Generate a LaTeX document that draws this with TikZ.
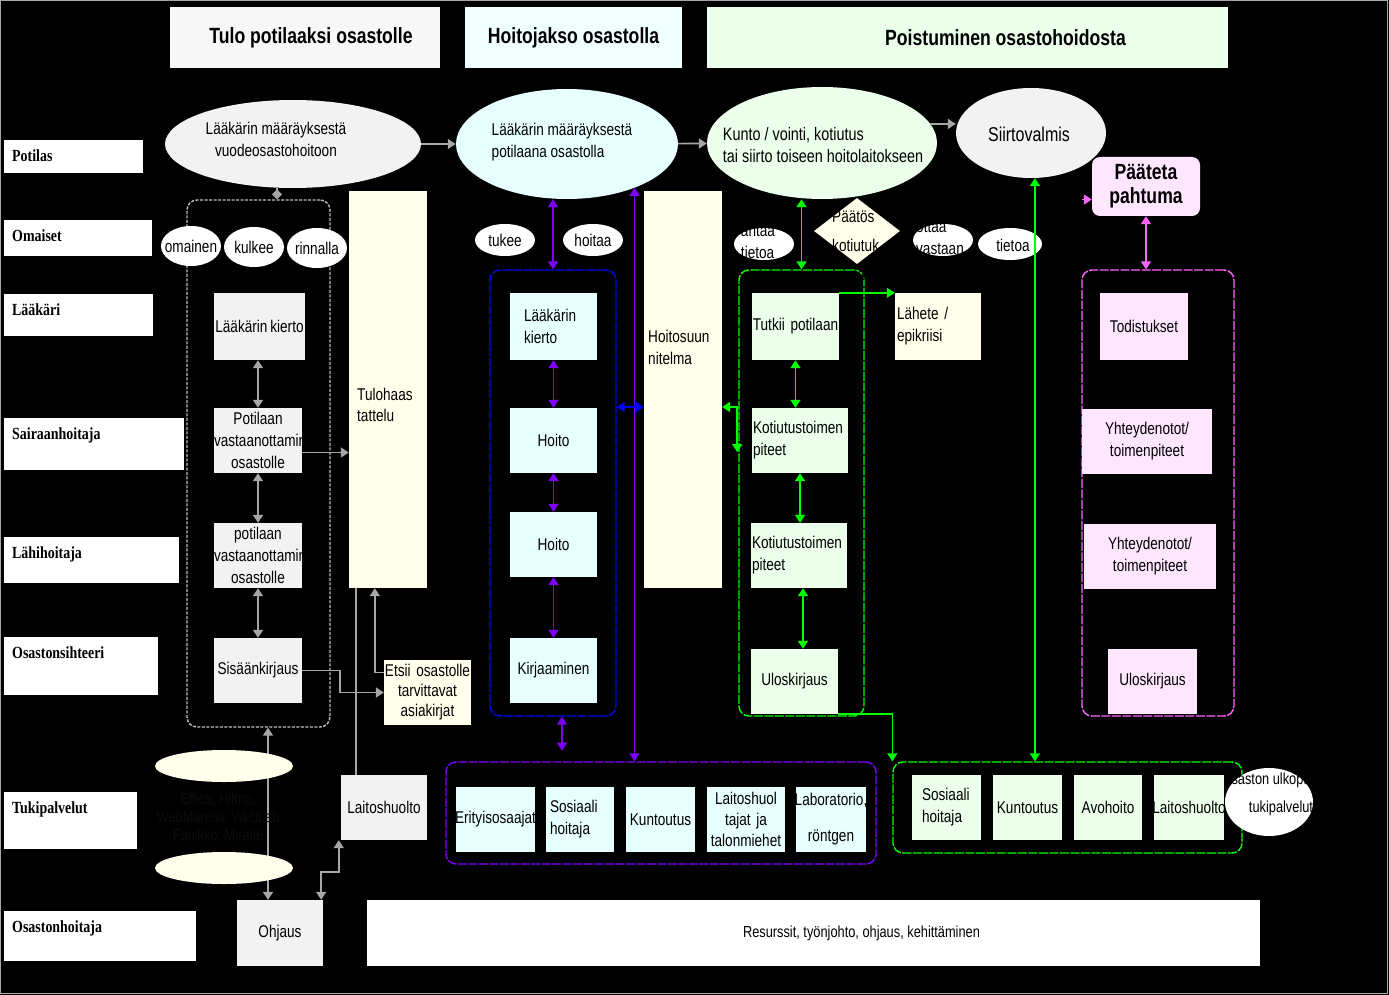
\documentclass[tikz,border=0pt]{standalone}
\usepackage{fontspec}
\setmainfont{Liberation Sans}[FakeStretch=0.8]
\newfontfamily\rolefont{Liberation Serif}[FakeStretch=0.82]
\usetikzlibrary{arrows.meta,shapes.geometric}

\definecolor{gfill}{HTML}{F2F2F2}
\definecolor{cfill}{HTML}{E8FFFF}
\definecolor{lfill}{HTML}{EBFFEB}
\definecolor{yfill}{HTML}{FFFFEB}
\definecolor{pfill}{HTML}{FFE6FF}
\definecolor{hone}{HTML}{F7F7F7}
\definecolor{htwo}{HTML}{F0FFFF}
\definecolor{garrow}{HTML}{A6A6A6}
\definecolor{ggroup}{HTML}{C0C0C0}
\definecolor{purp}{HTML}{8000FF}
\definecolor{grn}{HTML}{00FF00}
\definecolor{pnk}{HTML}{FF66FF}
\definecolor{cyltxt}{HTML}{0C0C0C}

\begin{document}
\begin{tikzpicture}[
  x=1pt, y=-1pt,
  font=\fontsize{17}{22}\selectfont,
  >={Triangle[width=10pt,length=8pt]},
  role/.style 2 args={fill=white, anchor=north west, align=left, inner xsep=8pt, inner ysep=9pt,
    text width=#1, text height=12pt, text depth=#2, font=\rolefont\bfseries\fontsize{17}{19}\selectfont},
  head/.style={fill=#1, inner sep=0pt, minimum height=61pt, font=\bfseries\fontsize{22}{26}\selectfont},
  box/.style={fill=#1, inner sep=0pt, align=center},
  ell/.style={ellipse, fill=#1, inner sep=0pt},
  txt/.style={inner sep=0pt, align=center},
  grp/.style={draw=#1, rounded corners=10pt, line width=1.4pt, dash pattern=on 9pt off 1.5pt, inner sep=0pt},
  arr/.style={draw=#1, line width=1.6pt}
]
\useasboundingbox (0,0) rectangle (1389,995);
\fill[black] (0,0) rectangle (1389,995);
\draw[gray!70, line width=1pt] (0.5,0.5) rectangle (1387.5,993.5);

% --- phase headers ---
\node[head=hone, minimum width=270pt] (hTulo) at (305,37.5) {\hspace{12pt}Tulo potilaaksi osastolle};
\node[head=htwo, minimum width=217pt] (hHoito) at (573.5,37.5) {Hoitojakso osastolla};
\node[head=lfill, minimum width=521pt] (hPois) at (967.5,37.5) {\hspace{76pt}Poistuminen osastohoidosta};

% --- roles ---
\node[role={123pt}{3pt}] (potilas) at (4,140) {Potilas};
\node[role={132pt}{6pt}] (omaiset) at (4,220) {Omaiset};
\node[role={133pt}{12pt}] (laakari) at (4,294) {Lääkäri};
\node[role={164pt}{22pt}] (sairaan) at (4,418) {Sairaanhoitaja};
\node[role={159pt}{16pt}] (lahi) at (4,537) {Lähihoitaja};
\node[role={138pt}{28pt}] (sihteeri) at (4,637) {Osastonsihteeri};
\node[role={117pt}{27pt}] (tuki) at (4,792) {Tukipalvelut};
\node[role={176pt}{20pt}] (oshoit) at (4,911) {Osastonhoitaja};

% --- groups ---
\node[grp=ggroup, dash pattern=on 3pt off 1.5pt, minimum width=143pt, minimum height=527pt] (tgrp) at (258.5,463.5) {};
\node[grp=blue, minimum width=126pt, minimum height=446pt] (bgrp) at (553,493) {};
\node[grp=grn, minimum width=125pt, minimum height=446pt] (ggrp) at (801.5,493) {};
\node[grp=pnk, minimum width=152pt, minimum height=446pt] (pgrp2) at (1158,493) {};
\node[grp=purp, minimum width=430pt, minimum height=102pt] (pgrp) at (661,813) {};
\node[grp=grn, minimum width=349pt, minimum height=91pt] (ggrp2) at (1067.5,807.5) {};

% --- ellipses ---
\node[ell=gfill, minimum width=256pt, minimum height=88pt] (e1) at (293,144) {};
\node[txt] (e1t) at (276,139) {Lääkärin määräyksestä\\vuodeosastohoitoon};
\node[ell=cfill, minimum width=222pt, minimum height=110pt] (e2) at (567,144) {};
\node[txt, align=left] (e2t) at (562,142) {Lääkärin määräyksestä\\potilaana osastolla};
\node[ell=lfill, minimum width=230pt, minimum height=112pt] (e3) at (822,143) {};
\node[txt, align=left, font=\fontsize{18}{22}\selectfont] (e3t) at (823,145) {Kunto / vointi, kotiutus\\tai siirto toiseen hoitolaitokseen};
\node[ell=gfill, minimum width=150pt, minimum height=90pt] (e4) at (1031,133) {};
\node[txt, font=\fontsize{20}{24}\selectfont] (e4t) at (1029,134) {Siirtovalmis};
\node[box=pfill, rounded corners=8pt, text width=108pt, minimum height=59pt, font=\bfseries\fontsize{22}{24}\selectfont] (paate) at (1146,186.5) {Pääteta\\pahtuma};

\node[ell=white, minimum width=60pt, minimum height=40pt] (omainen) at (191,246) {};
\node[txt] (omainent) at (omainen) {omainen};
\node[ell=white, minimum width=60pt, minimum height=40pt] (kulkee) at (254,247) {};
\node[txt] (kulkeet) at (kulkee) {kulkee};
\node[ell=white, minimum width=60pt, minimum height=40pt] (rinnalla) at (317,248) {};
\node[txt] (rinnallat) at (rinnalla) {rinnalla};
\node[ell=white, minimum width=60pt, minimum height=32pt] (tukee) at (505,240) {};
\node[txt] (tukeet) at (tukee) {tukee};
\node[ell=white, minimum width=60pt, minimum height=32pt] (hoitaa) at (593,240) {};
\node[txt] (hoitaat) at (hoitaa) {hoitaa};
\node[ell=white, minimum width=60pt, minimum height=32pt] (antaa) at (764,244) {};
\node[txt, align=left] (antaat) at (758,242) {antaa\\tietoa};
\node[diamond, fill=yfill, inner sep=0pt, minimum width=86pt, minimum height=66pt] (paatos) at (857,231) {};
\node[txt, align=left, anchor=north west, font=\fontsize{17}{29}\selectfont] (paatost) at (832,211) {Päätös\\kotiutuk\\sesta};
\node[ell=white, minimum width=60pt, minimum height=32pt] (ottaa) at (943,240) {};
\node[txt, align=left] (ottaat) at (940,238) {ottaa\\vastaan};
\node[ell=white, minimum width=64pt, minimum height=32pt] (tietoa) at (1010,244) {};
\node[txt] (tietoat) at (1013,245) {tietoa};
\node[ell=white, minimum width=88pt, minimum height=68pt] (ulko) at (1269,802) {};
\node[txt, font=\fontsize{16}{28}\selectfont] (ulkot) at (1281,794) {Osaston ulkopuoliset\\tukipalvelut};

% --- tulo potilaaksi ---
\node[box=gfill, text width=91pt, minimum height=67pt] (lkierto) at (259.5,326.5) {\makebox[0pt]{Lääkärin\,kierto}};
\node[box=gfill, text width=88pt, minimum height=65pt] (pvast1) at (258,440.5) {Potilaan\\vastaanottaminen\\osastolle};
\node[box=gfill, text width=88pt, minimum height=65pt] (pvast2) at (258,555.5) {potilaan\\vastaanottaminen\\osastolle};
\node[box=gfill, text width=88pt, minimum height=65pt] (sisaan) at (258,670.5) {Sisäänkirjaus};
\node[box=yfill, minimum width=78pt, minimum height=397pt] (tulo) at (388,389.5) {};
\node[txt, align=left, anchor=north west, font=\fontsize{17}{21}\selectfont] (tulot) at (357,388) {Tulohaas\\tattelu};
\node[box=yfill, text width=87pt, minimum height=65pt, font=\fontsize{17}{20}\selectfont] (etsii) at (427.5,692.5) {Etsii osastolle\\tarvittavat\\asiakirjat};
\node[box=gfill, text width=86pt, minimum height=65pt] (laitos) at (384,807.5) {Laitoshuolto};
\node[box=gfill, text width=86pt, minimum height=66pt] (ohjaus) at (280,933) {Ohjaus};
\node[box=white, minimum width=893pt, minimum height=66pt, font=\fontsize{16}{20}\selectfont] (resurssit) at (813.5,933) {\hspace{96pt}Resurssit, työnjohto, ohjaus, kehittäminen};

% --- hoitojakso ---
\node[box=cfill, align=left, text width=59pt, inner xsep=14pt, minimum height=67pt] (lk2) at (553.5,326.5) {Lääkärin\\kierto};
\node[box=cfill, text width=87pt, minimum height=65pt] (hoito1) at (553.5,440.5) {Hoito};
\node[box=cfill, text width=87pt, minimum height=65pt] (hoito2) at (553.5,544.5) {Hoito};
\node[box=cfill, text width=87pt, minimum height=65pt] (kirj) at (553.5,670.5) {Kirjaaminen};
\node[box=yfill, minimum width=78pt, minimum height=397pt] (hoitosuun) at (683,389.5) {};
\node[txt, align=left, anchor=north west] (hoitosuunt) at (648,330) {Hoitosuun\\nitelma};
\node[box=cfill, text width=79pt, minimum height=65pt] (erit) at (495.5,819.5) {\makebox[0pt]{Erityisosaajat}};
\node[box=cfill, align=left, text width=60pt, inner xsep=4pt, minimum height=65pt] (sos1) at (580,819.5) {Sosiaali\\hoitaja};
\node[box=cfill, text width=69pt, minimum height=65pt] (kunt1) at (660.5,819.5) {Kuntoutus};
\node[box=cfill, text width=78pt, minimum height=65pt, font=\fontsize{17}{21}\selectfont] (laitos2) at (746,819.5) {Laitoshuol\\tajat ja\\talonmiehet};
\node[box=cfill, text width=70pt, minimum height=65pt, font=\fontsize{17}{36}\selectfont] (labra) at (831,819.5) {\makebox[0pt]{Laboratorio,}\\röntgen};

% --- poistuminen ---
\node[box=lfill, text width=87pt, minimum height=67pt] (tutkii) at (795.5,326.5) {Tutkii potilaan};
\node[box=lfill, align=left, text width=94pt, inner xsep=1pt, minimum height=65pt] (koti1) at (800,440.5) {Kotiutustoimen\\piteet};
\node[box=lfill, align=left, text width=94pt, inner xsep=1pt, minimum height=65pt] (koti2) at (799,555.5) {Kotiutustoimen\\piteet};
\node[box=lfill, text width=87pt, minimum height=65pt] (ulos) at (794.5,681.5) {Uloskirjaus};
\node[box=yfill, align=left, text width=82pt, inner xsep=2pt, minimum height=67pt] (lahete) at (938,326.5) {Lähete /\\epikriisi};
\node[box=lfill, align=left, text width=49pt, inner xsep=10pt, minimum height=65pt] (sos2) at (946.5,807.5) {Sosiaali\\hoitaja};
\node[box=lfill, text width=69pt, minimum height=65pt] (kunt2) at (1027.5,807.5) {Kuntoutus};
\node[box=lfill, text width=68pt, minimum height=65pt] (avo) at (1108,807.5) {Avohoito};
\node[box=lfill, text width=70pt, minimum height=65pt] (laitos3) at (1189,807.5) {\makebox[0pt]{Laitoshuolto}};
\node[box=pfill, text width=88pt, minimum height=67pt] (todist) at (1144,326.5) {Todistukset};
\node[box=pfill, text width=130pt, minimum height=65pt] (yht1) at (1147,441.5) {Yhteydenotot/\\toimenpiteet};
\node[box=pfill, text width=132pt, minimum height=65pt] (yht2) at (1150,556.5) {Yhteydenotot/\\toimenpiteet};
\node[box=pfill, text width=89pt, minimum height=65pt] (ulos2) at (1152.5,681.5) {Uloskirjaus};

% --- gray connectors ---
\draw[arr=garrow,->] (e1) -- (e2);
\draw[arr=garrow,->] (e2) -- (e3);
\draw[arr=garrow,->] (e3.10) -- (e3.10 -| e4.west);
\draw[arr=garrow,-{Diamond[width=10pt,length=10pt]}] (e1.250) -- (e1.250 |- tgrp.north);
\draw[arr=garrow,<->] (pvast1.north) -- (pvast1.north |- lkierto.south);
\draw[arr=garrow,<->] (pvast1.south) -- (pvast2.north);
\draw[arr=garrow,<->] (pvast2.south) -- (sisaan.north);
\draw[arr=garrow,->] ([yshift=-12pt]pvast1.east) -- ([yshift=-12pt]pvast1.east -| tulo.west);
\draw[arr=garrow,->] (sisaan.east) -- ++(38,0) |- (etsii.west);
\draw[arr=garrow,->] ([yshift=20pt]etsii.west) -| ([xshift=26pt]tulo.south west);
\draw[arr=garrow] ([xshift=7pt]tulo.south west) -- ([xshift=7pt]tulo.south west |- laitos.north);
\draw[arr=garrow,<->] ([xshift=-12pt]ohjaus.north) -- ([xshift=-12pt]ohjaus.north |- tgrp.south);
\draw[arr=garrow,<->] ([xshift=-2pt]ohjaus.north east) -- ++(0,-28) -| ([xshift=-2pt]laitos.south west);

% --- purple and blue connectors ---
\draw[arr=purp,<->] (bgrp.north) -- (bgrp.north |- e2.south);
\draw[arr=purp,<->] (lk2) -- (hoito1);
\draw[arr=purp,<->] (hoito1) -- (hoito2);
\draw[arr=purp,<->] (hoito2) -- (kirj);
\draw[arr=purp,<->] ([xshift=9pt]bgrp.south) -- ++(0,34);
\draw[arr=purp,<->] (e2.-33) -- (e2.-33 |- pgrp.north);
\draw[arr=blue,<->] ([yshift=-17.5pt]hoitosuun.west) -- ([yshift=-17.5pt]hoitosuun.west -| bgrp.east);

% --- green connectors ---
\draw[arr=grn,<->] (ggrp.north) -- (ggrp.north |- e3.south);
\draw[arr=grn,<->] (tutkii.south) -- (tutkii.south |- koti1.north);
\draw[arr=grn,<->] (koti1.south) -- (koti1.south |- koti2.north);
\draw[arr=grn,<->] ([xshift=4pt]koti2.south) -- ([xshift=4pt]koti2.south |- ulos.north);
\draw[arr=grn,->] (tutkii.north east) -- (lahete.north west);
\draw[arr=grn,<->] ([yshift=-17.5pt]hoitosuun.east) -| ++(15,45);
\draw[arr=grn,->] (ulos.south east) -| (ggrp2.north west);
\draw[arr=grn,<->] (e4.-85) -- (e4.-85 |- ggrp2.north);

% --- pink connectors ---
\draw[arr=pnk,<->] (paate.south) -- (paate.south |- pgrp2.north);
\draw[arr=pnk,->] ([xshift=-10pt,yshift=-13pt]paate.west) -- ([yshift=-13pt]paate.west);

% --- systems (cylinder) ---
\node[ell=yfill, minimum width=138pt, minimum height=32pt] (cyl1) at (224,766) {};
\node[ell=yfill, minimum width=138pt, minimum height=32pt] (cyl2) at (224,868) {};
\node[txt, text=cyltxt, font=\fontsize{16}{18}\selectfont] (cylt) at (218,818) {Effica, Hilmo,\\WebMarella, WebLab\\Fanikko, Miratel};

\end{tikzpicture}
\end{document}
